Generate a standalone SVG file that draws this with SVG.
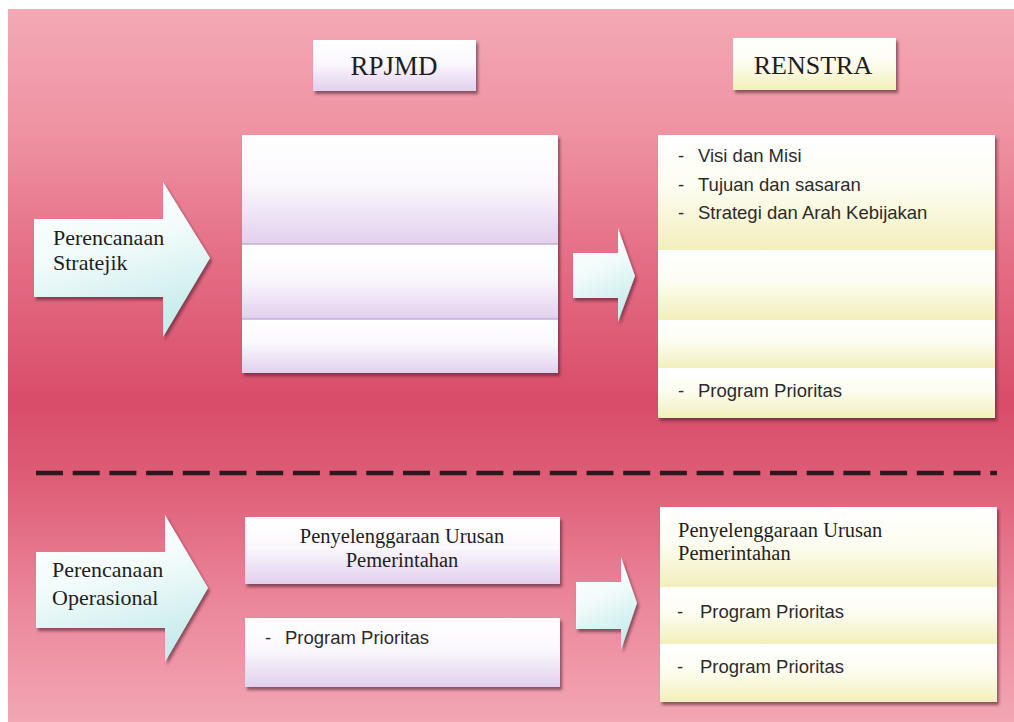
<svg xmlns="http://www.w3.org/2000/svg" width="1014" height="722" viewBox="0 0 1014 722">
<defs>
<linearGradient id="bg" x1="0" y1="0" x2="0" y2="1">
<stop offset="0" stop-color="#f4a9b5"/>
<stop offset="0.17" stop-color="#ef93a3"/>
<stop offset="0.35" stop-color="#e46e85"/>
<stop offset="0.55" stop-color="#d94c6a"/>
<stop offset="0.66" stop-color="#de5d76"/>
<stop offset="0.82" stop-color="#ea8499"/>
<stop offset="1" stop-color="#f3a6b4"/>
</linearGradient>
<linearGradient id="lav" x1="0" y1="0" x2="0" y2="1">
<stop offset="0" stop-color="#ffffff"/>
<stop offset="0.45" stop-color="#fbf8fd"/>
<stop offset="1" stop-color="#e2d0ee"/>
</linearGradient>
<linearGradient id="yel" x1="0" y1="0" x2="0" y2="1">
<stop offset="0" stop-color="#ffffff"/>
<stop offset="0.45" stop-color="#fdfdf2"/>
<stop offset="1" stop-color="#f2efbb"/>
</linearGradient>
<linearGradient id="arr" x1="0" y1="0" x2="0.3" y2="1">
<stop offset="0" stop-color="#ffffff"/>
<stop offset="0.5" stop-color="#f2fbfb"/>
<stop offset="1" stop-color="#c9ecec"/>
</linearGradient>
<filter id="sh" x="-10%" y="-10%" width="125%" height="130%">
<feDropShadow dx="2" dy="3" stdDeviation="1.6" flood-color="#4a1a2a" flood-opacity="0.6"/>
</filter>
</defs>
<style>
.serif{font-family:"Liberation Serif","Times New Roman",serif;fill:#1e1e1e}
.sans{font-family:"Liberation Sans",Arial,sans-serif;font-size:18.5px;fill:#2b2b2b}
.lavbox{fill:url(#lav)}
.yelbox{fill:url(#yel)}
.arrow{fill:url(#arr);filter:url(#sh)}
.divl{stroke:#c4aed6;stroke-width:1.5}
</style>
<rect x="0" y="0" width="1014" height="722" fill="#ffffff"/>
<rect x="8" y="9" width="1006" height="713" fill="url(#bg)"/>

<g id="separator">
<line x1="36" y1="473" x2="997" y2="473" stroke="#2a1a1e" stroke-width="4.5" stroke-dasharray="27 9.7"/>
</g>

<g id="header-rpjmd">
<rect x="313" y="40" width="163" height="51" class="lavbox" filter="url(#sh)"/>
<text x="394" y="75" class="serif" font-size="27" text-anchor="middle">RPJMD</text>
</g>

<g id="header-renstra">
<rect x="733" y="38" width="163" height="52" class="yelbox" filter="url(#sh)"/>
<text x="813" y="74" class="serif" font-size="26" text-anchor="middle">RENSTRA</text>
</g>

<g id="perencanaan-stratejik">
<polygon class="arrow" points="34,219 163,219 163,182 210,258 163,337 163,297 34,297"/>
<text class="serif" font-size="22"><tspan x="53" y="245">Perencanaan</tspan><tspan x="53" y="270">Stratejik</tspan></text>
</g>

<g id="rpjmd-strategic">
<g filter="url(#sh)">
<rect x="242" y="135" width="316" height="109" class="lavbox"/>
<rect x="242" y="244" width="316" height="75" class="lavbox"/>
<rect x="242" y="319" width="316" height="54" class="lavbox"/>
</g>
<line x1="242" y1="244" x2="558" y2="244" class="divl"/>
<line x1="242" y1="319" x2="558" y2="319" class="divl"/>
</g>

<g id="renstra-strategic">
<g filter="url(#sh)">
<rect x="658" y="135" width="337" height="115" class="yelbox"/>
<rect x="658" y="250" width="337" height="70" class="yelbox"/>
<rect x="658" y="320" width="337" height="48" class="yelbox"/>
<rect x="658" y="368" width="337" height="50" class="yelbox"/>
</g>
<text class="sans"><tspan x="678" y="162">-</tspan><tspan x="698" y="162">Visi dan Misi</tspan></text>
<text class="sans"><tspan x="678" y="191">-</tspan><tspan x="698" y="191">Tujuan dan sasaran</tspan></text>
<text class="sans"><tspan x="678" y="219">-</tspan><tspan x="698" y="219">Strategi dan Arah Kebijakan</tspan></text>
<text class="sans"><tspan x="678" y="397">-</tspan><tspan x="698" y="397">Program Prioritas</tspan></text>
</g>

<g id="perencanaan-operasional">
<polygon class="arrow" points="36,552 165,552 165,515 208,588 165,662 165,628 36,628"/>
<text class="serif" font-size="22"><tspan x="52" y="577">Perencanaan</tspan><tspan x="52" y="605">Operasional</tspan></text>
</g>

<g id="rpjmd-urusan">
<rect x="245" y="517" width="315" height="67" class="lavbox" filter="url(#sh)"/>
<text class="serif" font-size="20.5" text-anchor="middle"><tspan x="402" y="543">Penyelenggaraan Urusan</tspan><tspan x="402" y="567">Pemerintahan</tspan></text>
</g>

<g id="rpjmd-program">
<rect x="245" y="618" width="315" height="69" class="lavbox" filter="url(#sh)"/>
<text class="sans"><tspan x="265" y="644">-</tspan><tspan x="285" y="644">Program Prioritas</tspan></text>
</g>

<g id="renstra-operational">
<g filter="url(#sh)">
<rect x="660" y="507" width="337" height="80" class="yelbox"/>
<rect x="660" y="587" width="337" height="57" class="yelbox"/>
<rect x="660" y="644" width="337" height="58" class="yelbox"/>
</g>
<text class="serif" font-size="20.5"><tspan x="678" y="537">Penyelenggaraan Urusan</tspan><tspan x="678" y="560">Pemerintahan</tspan></text>
<text class="sans"><tspan x="677" y="618">-</tspan><tspan x="700" y="618">Program Prioritas</tspan></text>
<text class="sans"><tspan x="677" y="673">-</tspan><tspan x="700" y="673">Program Prioritas</tspan></text>
</g>

<g id="connectors">
<polygon class="arrow" points="573,253 618,253 618,228 635,276 618,322 618,298 573,298"/>
<polygon class="arrow" points="576,582 621,582 621,557 637,603 621,650 621,629 576,629"/>
</g>
</svg>
